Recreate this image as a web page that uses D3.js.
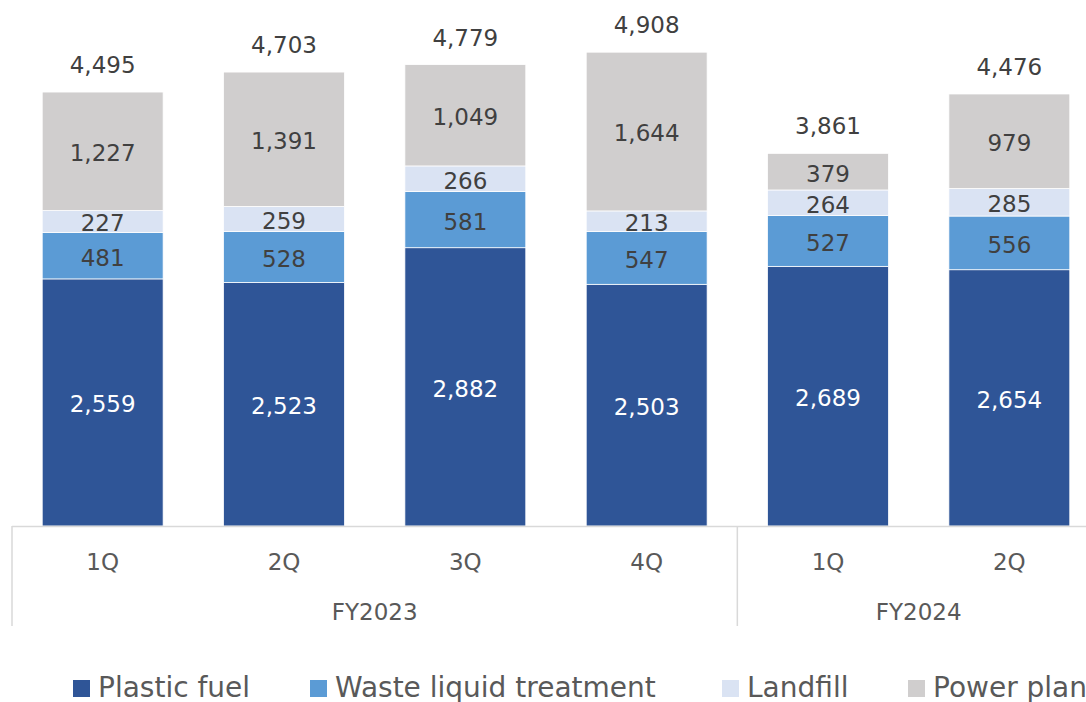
<!DOCTYPE html>
<html>
<head>
<meta charset="utf-8">
<script src="https://cdn.jsdelivr.net/npm/d3@7"></script>
<style>
html,body{margin:0;padding:0;background:#fff;}
svg{display:block;}
text{font-family:"DejaVu Sans",Verdana,sans-serif;}
</style>
</head>
<body>
<svg id="chart" width="1086" height="702"></svg>
<script>
const categories = ["1Q","2Q","3Q","4Q","1Q","2Q"];
const years = ["FY2023","FY2023","FY2023","FY2023","FY2024","FY2024"];
const seriesNames = ["Plastic fuel","Waste liquid treatment","Landfill","Power plant"];
const plasticFuel = [2559, 2523, 2882, 2503, 2689, 2654];
const wasteLiquid = [481, 528, 581, 547, 527, 556];
const landfill = [227, 259, 266, 213, 264, 285];
const powerPlant = [1227, 1391, 1049, 1644, 379, 979];
const totals = [4495, 4703, 4779, 4908, 3861, 4476];
const colors = ["#2F5597", "#5B9BD5", "#DAE3F3", "#D0CECE"];
const labelColors = ["#ffffff", "#404040", "#404040", "#404040"];

const svg = d3.select("#chart");
const plotLeft = 12, plotRight = 1100, baseY = 526;
const pxPerUnit = 0.09656;

const keys = categories.map((c, i) => i);
const x = d3.scaleBand().domain(keys).range([plotLeft, plotRight]).paddingInner(1/3).paddingOuter(1/6);
const y = d3.scaleLinear().domain([0, 5000]).range([baseY, baseY - 5000 * pxPerUnit]);

const rows = keys.map(i => ({
  i,
  s0: plasticFuel[i], s1: wasteLiquid[i], s2: landfill[i], s3: powerPlant[i]
}));
const stack = d3.stack().keys(["s0","s1","s2","s3"]);
const stacked = stack(rows);

const fmt = d3.format(",");

stacked.forEach((layer, si) => {
  const g = svg.append("g");
  g.selectAll("rect").data(layer).enter().append("rect")
    .attr("x", d => x(d.data.i))
    .attr("width", x.bandwidth())
    .attr("y", d => y(d[1]))
    .attr("height", d => y(d[0]) - y(d[1]))
    .attr("fill", colors[si])
    .attr("stroke", "#ffffff")
    .attr("stroke-width", 0.75);
  g.selectAll("text").data(layer).enter().append("text")
    .attr("x", d => x(d.data.i) + x.bandwidth() / 2)
    .attr("y", d => (y(d[0]) + y(d[1])) / 2)
    .attr("dy", "0.43em")
    .attr("text-anchor", "middle")
    .attr("font-size", 23)
    .attr("fill", labelColors[si])
    .text(d => fmt(d[1] - d[0]));
});

// totals
svg.append("g").selectAll("text").data(stacked[3]).enter().append("text")
  .attr("x", d => x(d.data.i) + x.bandwidth() / 2)
  .attr("y", d => y(d[1]) - 19)
  .attr("text-anchor", "middle")
  .attr("font-size", 23)
  .attr("fill", "#404040")
  .text(d => fmt(totals[d.data.i]));

// axis
const axisColor = "#d9d9d9";
const axisG = svg.append("g");
axisG.append("line").attr("x1", plotLeft).attr("x2", 1086).attr("y1", baseY + 0.5).attr("y2", baseY + 0.5)
  .attr("stroke", axisColor).attr("stroke-width", 1.5);
const sepX = [plotLeft, (x(3) + x.bandwidth() + x(4)) / 2];
sepX.forEach(sx => {
  axisG.append("line").attr("x1", sx).attr("x2", sx).attr("y1", baseY).attr("y2", 626)
    .attr("stroke", axisColor).attr("stroke-width", 1.5);
});
axisG.selectAll("text.cat").data(keys).enter().append("text")
  .attr("class", "cat")
  .attr("x", i => x(i) + x.bandwidth() / 2)
  .attr("y", 570)
  .attr("text-anchor", "middle")
  .attr("font-size", 23)
  .attr("fill", "#595959")
  .text(i => categories[i]);
const groups = Array.from(new Set(years));
const groupBounds = [[plotLeft, sepX[1]], [sepX[1], plotRight]];
groups.forEach((gname, gi) => {
  axisG.append("text")
    .attr("x", (groupBounds[gi][0] + groupBounds[gi][1]) / 2)
    .attr("y", 620)
    .attr("text-anchor", "middle")
    .attr("font-size", 23)
    .attr("fill", "#595959")
    .text(gname);
});

// legend
const legendX = [73, 310, 722, 908];
const legend = svg.append("g");
seriesNames.forEach((name, i) => {
  legend.append("rect").attr("x", legendX[i]).attr("y", 680).attr("width", 17).attr("height", 17).attr("fill", colors[i]);
  legend.append("text").attr("x", legendX[i] + 25).attr("y", 697)
    .attr("font-size", 28).attr("fill", "#595959").text(name);
});
</script>
</body>
</html>
